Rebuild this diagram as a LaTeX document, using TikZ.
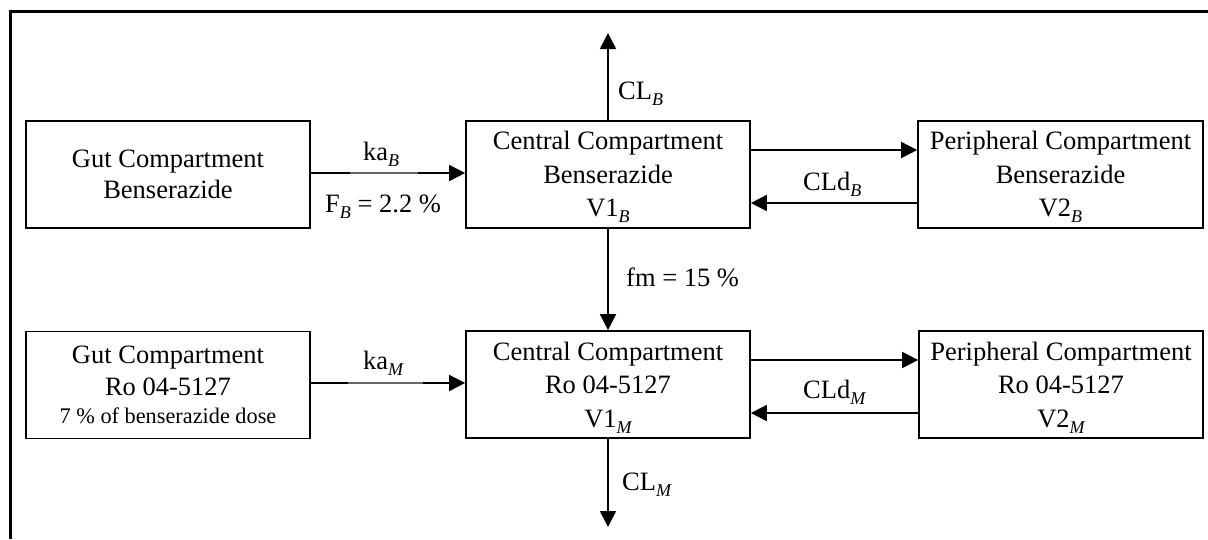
\documentclass[tikz,border=0pt]{standalone}
\usepackage{fontspec}
\setmainfont{Liberation Serif}
\usetikzlibrary{arrows.meta}
\newcommand{\sbi}[1]{\smash{\raisebox{-6pt}{\fontsize{18}{18}\selectfont\itshape #1}}}
\tikzset{
  cbox/.style={draw, line width=1.7pt, minimum width=284pt, minimum height=107pt,
    inner sep=0pt, align=center, font=\fontsize{26.5}{33.5}\selectfont},
  conn/.style={line width=1.7pt, -{Triangle[length=16pt,width=16pt]}},
  thinpart/.style={line width=1.2pt, draw=black!60},
  lab/.style={inner sep=0pt, anchor=base west, font=\fontsize{26.5}{31}\selectfont},
}
\begin{document}
\begin{tikzpicture}[x=1pt,y=-1pt]
\useasboundingbox (0,0) rectangle (1208,539);
\draw[line width=3pt] (10.5,539) -- (10.5,11.5) -- (1208,11.5);

\node[cbox, font=\fontsize{26.5}{31}\selectfont] (gutB) at (168,174.5) {Gut Compartment\\Benserazide};
\node[cbox] (centB) at (608,174.5) {Central Compartment\\Benserazide\\V1\sbi{B}};
\node[cbox, minimum width=285pt] (periB) at (1060.5,174.5) {Peripheral Compartment\\Benserazide\\V2\sbi{B}};

\node[cbox, font=\fontsize{26.5}{32}\selectfont] (gutM) at (168,385) {Gut Compartment\\Ro 04-5127\\[-4pt]{\fontsize{22.3}{26}\selectfont 7 \% of benserazide dose}};
\node[cbox] (centM) at (608,384.5) {Central Compartment\\Ro 04-5127\\V1\sbi{M}};
\node[cbox] (periM) at (1061,384.5) {Peripheral Compartment\\Ro 04-5127\\V2\sbi{M}};

\coordinate (clB) at (608,33);
\coordinate (clM) at (608,527);
\coordinate (kaBa) at (350,173);
\coordinate (kaBb) at (418,173);
\coordinate (kaMa) at (348,383);
\coordinate (kaMb) at (423,383);

\draw[conn] ([yshift=1.5pt]gutB.east) -- ([yshift=1.5pt]centB.west);
\draw[conn] ([yshift=24.5pt]centB.east) -- ([yshift=24.5pt]periB.west);
\draw[conn] ([yshift=-28.5pt]periB.west) -- ([yshift=-28.5pt]centB.east);
\draw[conn] (centB.north) -- (clB);
\draw[conn] (centB.south) -- (centM.north);
\draw[conn] ([yshift=1.5pt]centM.west -| gutM.east) -- ([yshift=1.5pt]centM.west);
\draw[conn] ([yshift=24.5pt]centM.east) -- ([yshift=24.5pt]periM.west);
\draw[conn] ([yshift=-28.5pt]periM.west) -- ([yshift=-28.5pt]centM.east);
\draw[conn] (centM.south) -- (clM);

\draw[white, line width=2.2pt] (kaBa) -- (kaBb);
\draw[thinpart] (kaBa) -- (kaBb);
\draw[white, line width=2.2pt] (kaMa) -- (kaMb);
\draw[thinpart] (kaMa) -- (kaMb);

\node[lab] (kaB) at (363,160) {ka\sbi{B}};
\node[lab] (fB) at (325,212) {F\sbi{B} = 2.2 \%};
\node[lab] (cldB) at (803,190) {CLd\sbi{B}};
\node[lab] (clBl) at (618,99) {CL\sbi{B}};
\node[lab] (fm) at (626,286) {fm = 15 \%};
\node[lab] (kaM) at (363,369) {ka\sbi{M}};
\node[lab] (cldM) at (803,398) {CLd\sbi{M}};
\node[lab] (clMl) at (622,490) {CL\sbi{M}};
\end{tikzpicture}
\end{document}
